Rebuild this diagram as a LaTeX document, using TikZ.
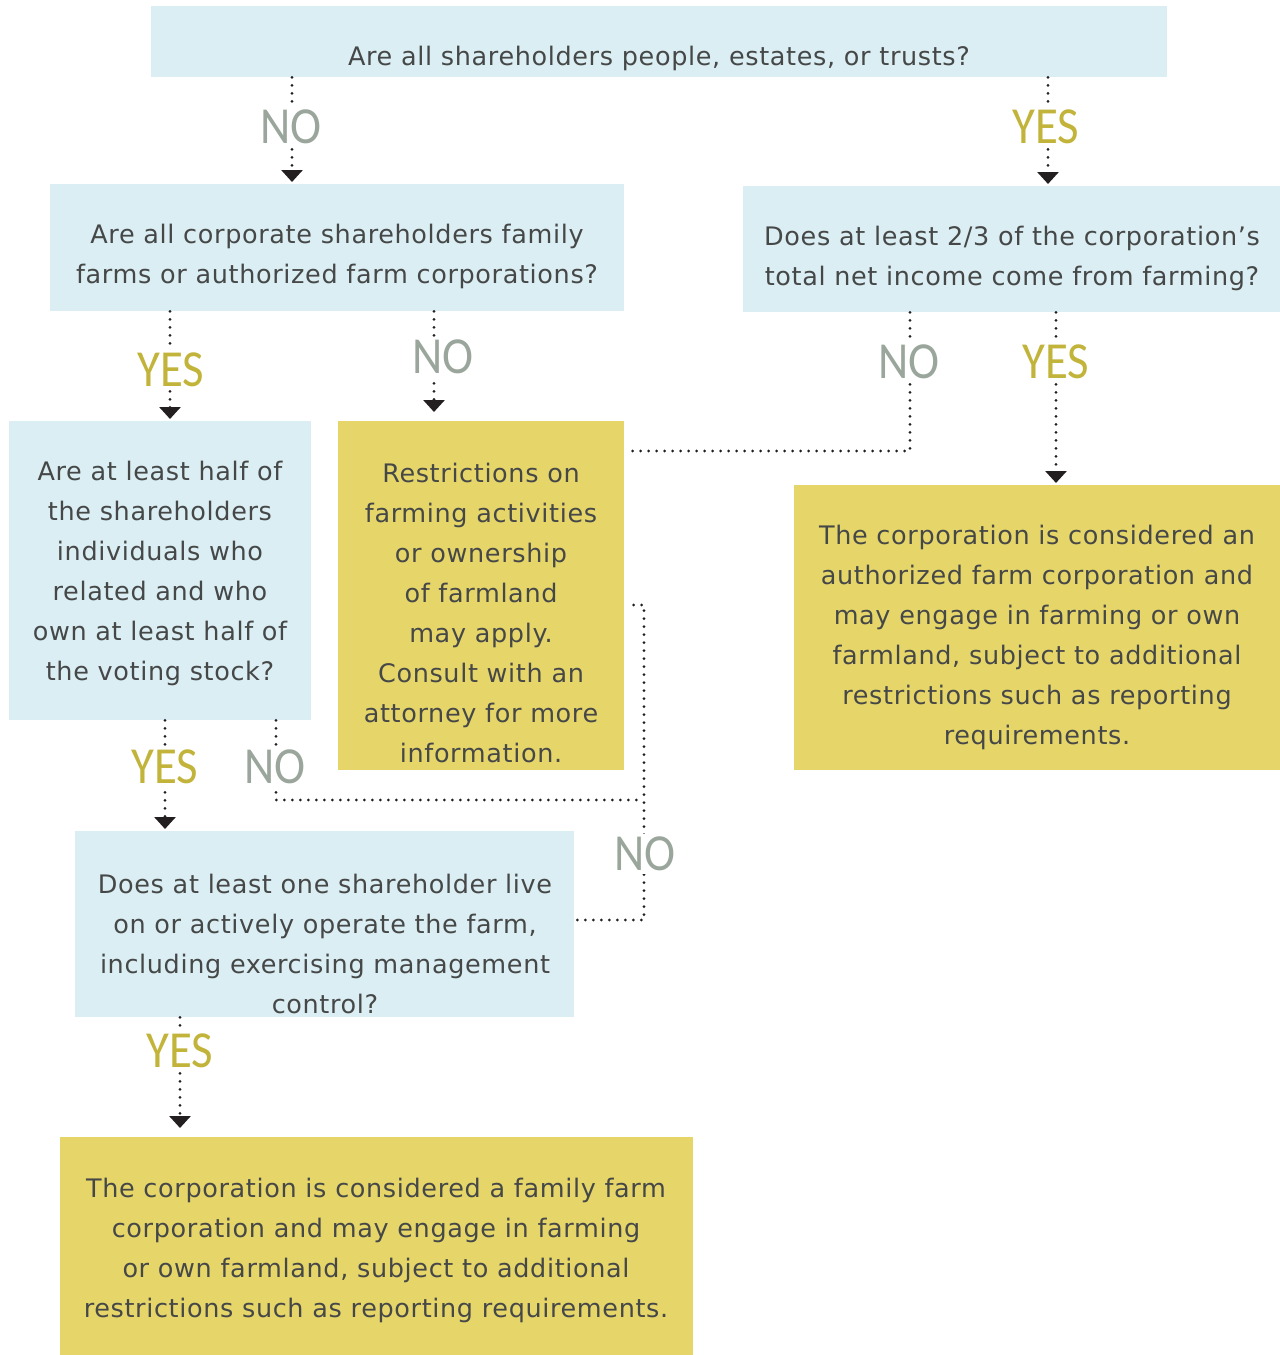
\documentclass[tikz,border=0pt]{standalone}
\usepackage{fontspec}
\setmainfont[LetterSpace=2.5]{DejaVu Sans}
\newfontfamily\labfont[FakeStretch=0.9]{Carlito}
\usetikzlibrary{arrows.meta,calc}

\definecolor{qblue}{HTML}{DBEEF3}
\definecolor{ayellow}{HTML}{E6D66A}
\definecolor{bodytext}{HTML}{464848}
\definecolor{nogray}{HTML}{9AA69C}
\definecolor{yesgold}{HTML}{C2B43A}
\definecolor{linkdark}{HTML}{231F20}

\tikzset{
  question/.style={fill=qblue, draw=none, inner sep=0pt, anchor=north west},
  answer/.style={fill=ayellow, draw=none, inner sep=0pt, anchor=north west},
  boxtext/.style={align=center, inner sep=0pt, text=bodytext,
    font=\fontsize{25.5}{40}\selectfont},
  nolabel/.style={fill=white, inner sep=3pt, text=nogray,
    font=\labfont\fontsize{52}{52}\selectfont},
  yeslabel/.style={fill=white, inner sep=3pt, text=yesgold,
    font=\labfont\fontsize{52}{52}\selectfont},
  link/.style={draw=linkdark, line width=3.1pt, line cap=round,
    dash pattern=on 0pt off 8pt},
  arrowlink/.style={link, -{Triangle[length=12pt,width=21pt]}, shorten >=2pt},
}

\begin{document}
\begin{tikzpicture}[x=1pt, y=-1pt]
\useasboundingbox (0,0) rectangle (1280,1355);

% boxes
\node[question, minimum width=1016pt, minimum height=71pt]  (q1) at (151,6) {};
\node[question, minimum width=574pt,  minimum height=127pt] (q2) at (50,184) {};
\node[question, minimum width=537pt,  minimum height=126pt] (q3) at (743,186) {};
\node[question, minimum width=302pt,  minimum height=299pt] (q4) at (9,421) {};
\node[answer,   minimum width=286pt,  minimum height=349pt] (a1) at (338,421) {};
\node[answer,   minimum width=486pt,  minimum height=285pt] (a2) at (794,485) {};
\node[question, minimum width=499pt,  minimum height=186pt] (q5) at (75,831) {};
\node[answer,   minimum width=633pt,  minimum height=218pt] (a3) at (60,1137) {};

% box texts
\node[boxtext] (t1) at (659,58) {Are all shareholders people, estates, or trusts?};
\node[boxtext] (t2) at (337,256) {Are all corporate shareholders family\\farms or authorized farm corporations?};
\node[boxtext] (t3) at (1012,258) {Does at least 2/3 of the corporation’s\\total net income come from farming?};
\node[boxtext] (t4) at (160,573) {Are at least half of\\the shareholders\\individuals who\\related and who\\own at least half of\\the voting stock?};
\node[boxtext] (t5) at (481,613) {Restrictions on\\farming activities\\or ownership\\of farmland\\may apply.\\Consult with an\\attorney for more\\information.};
\node[boxtext] (t6) at (1037,637) {The corporation is considered an\\authorized farm corporation and\\may engage in farming or own\\farmland, subject to additional\\restrictions such as reporting\\requirements.};
\node[boxtext] (t7) at (325,944) {Does at least one shareholder live\\on or actively operate the farm,\\including exercising management\\control?};
\node[boxtext] (t8) at (376,1250) {The corporation is considered a family farm\\corporation and may engage in farming\\or own farmland, subject to additional\\restrictions such as reporting requirements.};

% connectors
\draw[arrowlink] (q1.south -| 292,0) -- (q2.north -| 292,0);
\draw[arrowlink] (q1.south -| 1048,0) -- (q3.north -| 1048,0);
\draw[arrowlink] (q2.south -| 170,0) -- (q4.north -| 170,0);
\draw[arrowlink] (q2.south -| 434,0) -- ($(a1.north -| 434,0)+(0,-7)$);
\draw[arrowlink] (q3.south -| 1056,0) -- (a2.north -| 1056,0);
\draw[arrowlink] (q4.south -| 165,0) -- (q5.north -| 165,0);
\draw[arrowlink] (q5.south -| 180,0) -- ($(a3.north -| 180,0)+(0,-7)$);
\draw[link, shorten >=4pt] (q3.south -| 910,0) |- (a1.east |- 0,451);
\draw[link] (q4.south -| 276,0) |- (644,800);
\draw[link, shorten <=3pt, shorten >=6pt] (q5.east |- 0,920) -| (644,605) -- (a1.east |- 0,605);

% answer labels
\node[nolabel]  (l1)  at (291,127)  {NO};
\node[yeslabel] (l2)  at (1046,127) {YES};
\node[yeslabel] (l3)  at (171,370)  {YES};
\node[nolabel]  (l4)  at (443,357)  {NO};
\node[nolabel]  (l5)  at (909,362)  {NO};
\node[yeslabel] (l6)  at (1056,362) {YES};
\node[yeslabel] (l7)  at (165,767)  {YES};
\node[nolabel]  (l8)  at (275,767)  {NO};
\node[nolabel]  (l9)  at (645,854)  {NO};
\node[yeslabel] (l10) at (180,1051) {YES};
\end{tikzpicture}
\end{document}
